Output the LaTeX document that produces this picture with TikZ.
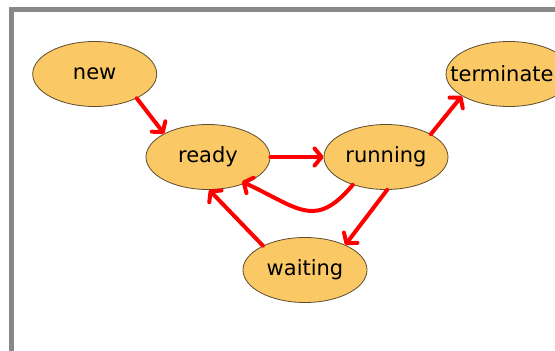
\documentclass[tikz,border=0pt]{standalone}
\usepackage{fontspec}
\setmainfont{DejaVu Sans}
\usepackage{xcolor}
\usepackage{tikz}
\usetikzlibrary{shapes.geometric}
\usetikzlibrary{arrows.meta}
\pgfdeclarelayer{nodelayer}
\pgfdeclarelayer{edgelayer}
\pgfsetlayers{nodelayer,edgelayer,main}
\definecolor{statefill}{RGB}{250,200,100}
\definecolor{stateline}{RGB}{95,75,45}
\definecolor{framegray}{RGB}{136,136,136}
\tikzset{
    state/.style = {ellipse, draw=stateline, line width=0.8pt, fill=statefill,
        minimum width=124pt, minimum height=65pt, inner sep=0pt,
        font=\fontsize{21}{25}\selectfont},
    trans/.style = {draw=red, line width=4pt, line cap=round,
        -{Straight Barb[length=7pt, width=17pt, round]}}
}

\begin{document}
\begin{tikzpicture}[x=1pt, y=1pt]
    \useasboundingbox (0, 0) rectangle (555, -351);
    \begin{scope}
        \clip (0, 0) rectangle (555, -351);
        \draw [framegray, line width=5pt] (11.5, -600) |- (800, -9.5);
    \end{scope}
    \begin{pgfonlayer}{nodelayer}
        \node [style=state] (0) at (94.7, -74) {new};
        \node [style=state] (1) at (208, -157) {ready};
        \node [style=state] (2) at (386, -157) {running};
        \node [style=state] (3) at (509, -74) {\hspace*{-14pt}terminate};
        \node [style=state] (4) at (305, -270) {waiting};
    \end{pgfonlayer}
    \begin{pgfonlayer}{edgelayer}
        \draw [style=trans] (0.-30) to (1.152);
        \draw [style=trans] (1.east) to (2.west);
        \draw [style=trans] (2.27) to (3.-155);
        \draw [style=trans] (2.-88) to (4.32);
        \draw [style=trans] (4.150) to (1.-88);
        % curved one back into ready
        \draw [style=trans, shorten >=-4pt] (2.-140) to [out=-130, in=-25, looseness=1.4] (1.-35);
    \end{pgfonlayer}
\end{tikzpicture}
\end{document}
